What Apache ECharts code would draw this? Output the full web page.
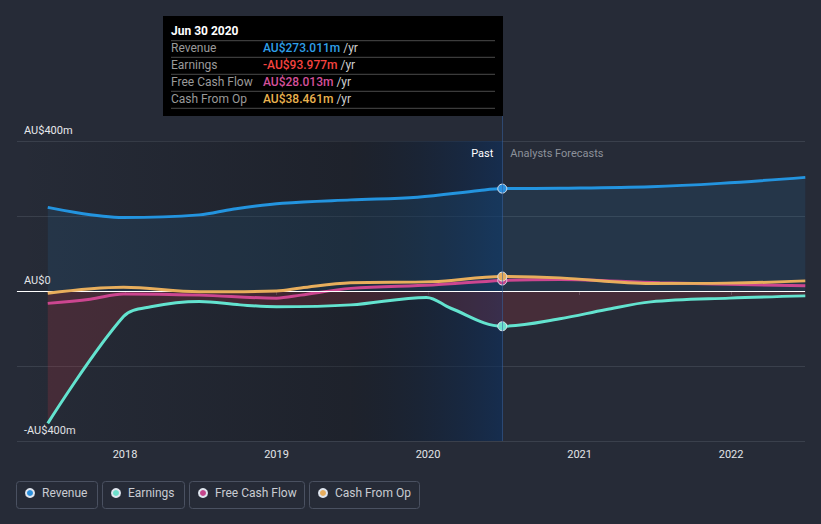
<!DOCTYPE html>
<html><head><meta charset="utf-8">
<script src="https://cdn.jsdelivr.net/npm/echarts@6/dist/echarts.min.js"></script>
<style>html,body{margin:0;padding:0;background:#262b37;}#c{width:821px;height:524px;}</style>
</head><body><div id="c"></div>
<script>
// ---- data ----
const yearTicks = [2018, 2019, 2020, 2021, 2022];
const yTickValues = [400, 0, -400];
const yTickLabels = ['AU$400m', 'AU$0', '-AU$400m'];
const seriesNames = ['Revenue', 'Earnings', 'Free Cash Flow', 'Cash From Op'];

const revenueX = [2017.49, 2017.99, 2018.49, 2018.71, 2019.04, 2019.49, 2019.93, 2020.34, 2020.49, 2020.87, 2021.47, 2021.93, 2022.49];
const revenueY = [223, 196, 203, 218, 234, 243, 250, 268, 273.011, 274, 278, 287, 303];

const earningsX = [2017.49, 2017.99, 2018.17, 2018.49, 2018.76, 2019.0, 2019.49, 2019.99, 2020.15, 2020.49, 2020.87, 2021.17, 2021.47, 2021.99, 2022.49];
const earningsY = [-353, -68, -42, -28, -37, -42, -37, -17, -46, -93.977, -74, -50, -29, -19, -13];

const fcfX = [2017.49, 2017.77, 2017.99, 2018.49, 2019.0, 2019.16, 2019.49, 2020.03, 2020.49, 2020.87, 2021.53, 2022.49];
const fcfY = [-33, -22, -8, -11, -19, -11, 7, 16, 28.013, 31, 22, 14];

const cfoX = [2017.49, 2017.99, 2018.49, 2019.0, 2019.16, 2019.49, 2020.03, 2020.49, 2020.87, 2021.47, 2021.97, 2022.49];
const cfoY = [-6, 10, -2, 0, 8, 22, 25, 38.461, 35, 20, 21, 27];

const tooltipTitle = 'Jun 30 2020';
const tooltipValues = ['AU$273.011m', '-AU$93.977m', 'AU$28.013m', 'AU$38.461m'];

const xMin = 2017.287, xMax = 2022.488;
const pastStart = 2019.49, pastEnd = 2020.49;

// ---- styles ----
const lineColors = ['#2394df', '#63e3cf', '#cc4690', '#e8ae5c'];
const legendColors = ['#2b8fdc', '#6de0cc', '#c4468c', '#e6ad5e'];
const tipColors = ['#2f9fe8', '#f5433f', '#d5509b', '#eab24f'];
const FONT = 'Roboto, "Open Sans", sans-serif';

function build(xs, ys) {
  return xs.map((x, i) => x === pastEnd
    ? { value: [x, ys[i]], symbol: 'circle', symbolSize: 9 }
    : [x, ys[i]]);
}

const chart = echarts.init(document.getElementById('c'), null, { renderer: 'svg' });

const G = echarts.graphic.LinearGradient;
const SM = 0.35;
const option = {
  backgroundColor: '#262b37',
  animation: false,
  grid: { left: 17, right: 16, top: 141, bottom: 83 },
  xAxis: {
    type: 'value', min: xMin, max: xMax,
    splitLine: { show: false },
    axisLine: { lineStyle: { color: '#4b5160', width: 1 } },
    axisTick: { show: true, length: 4, lineStyle: { color: '#4b5160' }, customValues: yearTicks },
    axisLabel: { color: '#e3e5e8', fontSize: 11, fontFamily: FONT, margin: 8, customValues: yearTicks,
      formatter: v => String(Math.round(v)) }
  },
  yAxis: {
    type: 'value', min: -400, max: 400, interval: 200,
    axisLine: { show: false }, axisTick: { show: false },
    splitLine: { lineStyle: { color: '#3a404c', width: 1 } },
    axisLabel: {
      inside: true, margin: 7, verticalAlign: 'bottom', padding: [0, 0, 5, 0],
      color: '#e6e8eb', fontSize: 11, fontFamily: FONT,
      formatter: v => { const i = yTickValues.indexOf(v); return i >= 0 ? yTickLabels[i] : ''; }
    }
  },
  legend: seriesNames.map((n, i) => ({
    data: [n], left: [25, 111, 198, 318][i], top: 487, padding: 0,
    icon: 'circle', itemWidth: 14, itemHeight: 8,
    textStyle: { color: '#c9ccd2', fontSize: 12, fontFamily: FONT },
    selectedMode: false
  })),
  series: [
    {
      name: seriesNames[0], type: 'line', smooth: SM, symbol: 'none',
      data: build(revenueX, revenueY), z: 3,
      lineStyle: { color: lineColors[0], width: 3 },
      itemStyle: { color: legendColors[0], borderColor: '#dfe5ee', borderWidth: 1 },
      areaStyle: { color: 'rgba(35,148,223,0.15)' },
      markArea: {
        silent: true,
        data: [
          [{ xAxis: xMin, itemStyle: { color: new G(0, 0, 1, 0, [
              { offset: 0, color: 'rgba(10,12,16,0)' }, { offset: 1, color: 'rgba(10,12,16,0.29)' }]) } },
           { xAxis: pastStart }],
          [{ xAxis: pastStart, itemStyle: { color: new G(0, 0, 1, 0, [
              { offset: 0, color: 'rgba(10,12,16,0.29)' }, { offset: 1, color: 'rgba(12,46,92,0.62)' }]) } },
           { xAxis: pastEnd }]
        ]
      }
    },
    {
      name: seriesNames[1], type: 'line', smooth: SM, symbol: 'none',
      data: build(earningsX, earningsY), z: 3,
      lineStyle: { color: lineColors[1], width: 3 },
      itemStyle: { color: legendColors[1], borderColor: '#dfe5ee', borderWidth: 1 },
      areaStyle: { color: 'rgba(229,57,70,0.24)' },
      markLine: {
        silent: true, symbol: ['none', 'none'], label: { show: false },
        lineStyle: { color: '#ffffff', width: 1, type: 'solid' },
        data: [{ yAxis: 0 }]
      }
    },
    {
      name: seriesNames[2], type: 'line', smooth: SM, symbol: 'none',
      data: build(fcfX, fcfY), z: 4,
      lineStyle: { color: lineColors[2], width: 3 },
      itemStyle: { color: legendColors[2], borderColor: '#dfe5ee', borderWidth: 1 }
    },
    {
      name: seriesNames[3], type: 'line', smooth: SM, symbol: 'none',
      data: build(cfoX, cfoY), z: 5,
      lineStyle: { color: lineColors[3], width: 3 },
      itemStyle: { color: legendColors[3], borderColor: '#dfe5ee', borderWidth: 1 }
    }
  ]
};
chart.setOption(option);

// ---- decorations derived from the axes ----
const px = chart.convertToPixel({ xAxisIndex: 0 }, pastEnd);
const yTop = chart.convertToPixel({ yAxisIndex: 0 }, 400);
const yBot = chart.convertToPixel({ yAxisIndex: 0 }, -400);

const tipLabels = seriesNames;
const tipRowsY = [32.3, 49, 65.7, 83.3];
const tipSepY = [24.7, 41.3, 58.3, 75.3, 92.3];
const tipChildren = [
  { type: 'rect', shape: { x: 0, y: 0, width: 340, height: 100 }, style: { fill: '#000000' } },
  { type: 'text', x: 8, y: 15, style: { text: tooltipTitle, fill: '#ffffff', font: 'bold 12px ' + FONT, verticalAlign: 'middle' } }
];
tipSepY.forEach(y => tipChildren.push({ type: 'line', shape: { x1: 8, y1: y, x2: 332, y2: y }, style: { stroke: '#4a4a4a', lineWidth: 1 } }));
tipLabels.forEach((l, i) => {
  tipChildren.push({ type: 'text', x: 8, y: tipRowsY[i], style: { text: l, fill: '#9a9a9a', font: '12px ' + FONT, verticalAlign: 'middle' } });
  tipChildren.push({ type: 'text', x: 100, y: tipRowsY[i], style: {
    text: '{v|' + tooltipValues[i] + '} {u|/yr}', verticalAlign: 'middle', font: '12px ' + FONT,
    rich: { v: { fill: tipColors[i], font: '500 12px ' + FONT }, u: { fill: '#cfcfcf', font: '12px ' + FONT } } } });
});

const legendBoxes = [[16.5, 81], [102.5, 82], [189.5, 115], [309.5, 110]];

chart.setOption({
  graphic: [
    { type: 'line', z: 50, shape: { x1: Math.round(px) + 0.5, y1: 116, x2: Math.round(px) + 0.5, y2: yBot }, style: { stroke: 'rgba(52,96,160,0.55)', lineWidth: 1 } },
    { type: 'text', z: 50, x: px - 9, y: yTop + 12, style: { text: 'Past', fill: '#ffffff', font: '11px ' + FONT, align: 'right', verticalAlign: 'middle' } },
    { type: 'text', z: 50, x: px + 8, y: yTop + 12, style: { text: 'Analysts Forecasts', fill: '#8c919a', font: '11px ' + FONT, align: 'left', verticalAlign: 'middle' } },
    { type: 'group', z: 100, left: 163, top: 16, children: tipChildren },
    ...legendBoxes.map(b => ({ type: 'rect', z: 0, shape: { x: b[0], y: 481.5, width: b[1], height: 27, r: 3 }, style: { fill: 'none', stroke: '#4a5161', lineWidth: 1 } }))
  ]
});
</script></body></html>
